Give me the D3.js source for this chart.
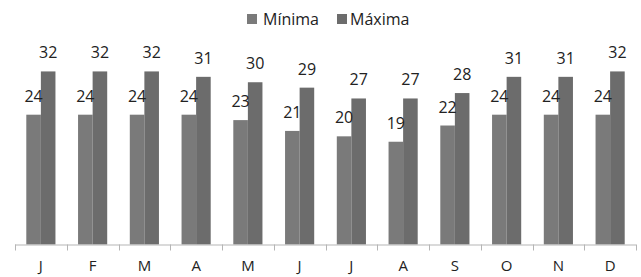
<!DOCTYPE html>
<html lang="es">
<head>
<meta charset="UTF-8">
<script src="https://d3js.org/d3.v7.min.js"></script>
<style>
  body { margin: 0; background: #fff; }
  svg { display: block; font-family: "Open Sans", sans-serif; }
</style>
</head>
<body>
<svg width="641" height="277"></svg>
<script>
const months = ["J", "F", "M", "A", "M", "J", "J", "A", "S", "O", "N", "D"];
const minima = [24, 24, 24, 24, 23, 21, 20, 19, 22, 24, 24, 24];
const maxima = [32, 32, 32, 31, 30, 29, 27, 27, 28, 31, 31, 32];
const seriesNames = ["Mínima", "Máxima"];
const colors = ["#7a7a7a", "#6c6c6c"];

const svg = d3.select("svg");
const left = 15, right = 636, base = 244.5;

const x = d3.scaleBand().domain(d3.range(months.length)).range([left, right]).paddingInner(0).paddingOuter(0);
const x1 = d3.scaleBand().domain([0, 1]).range([11.3, x.bandwidth() - 11.3]);
const y = d3.scaleLinear().domain([0, 35]).range([base, 55.2]);

const data = months.map((m, i) => ({ i, vals: [minima[i], maxima[i]] }));

const groups = svg.selectAll("g.grp").data(data).enter().append("g")
  .attr("class", "grp")
  .attr("transform", d => `translate(${x(d.i)},0)`);

groups.selectAll("rect").data(d => d.vals).enter().append("rect")
  .attr("x", (v, k) => x1(k))
  .attr("width", x1.bandwidth())
  .attr("y", v => y(v))
  .attr("height", v => base - y(v))
  .attr("fill", (v, k) => colors[k]);

groups.selectAll("text.val").data(d => d.vals).enter().append("text")
  .attr("class", "val")
  .attr("x", (v, k) => x1(k) + x1.bandwidth() / 2)
  .attr("y", v => y(v) - 13)
  .attr("text-anchor", "middle")
  .attr("font-size", 16)
  .attr("fill", "#222")
  .text(v => v);

// axis line + ticks between categories
svg.append("line")
  .attr("x1", left).attr("x2", right)
  .attr("y1", base + 0.5).attr("y2", base + 0.5)
  .attr("stroke", "#b5b5b5");
svg.selectAll("line.tick").data(d3.range(months.length + 1)).enter().append("line")
  .attr("class", "tick")
  .attr("x1", i => Math.round(left + i * x.bandwidth()) + 0.5)
  .attr("x2", i => Math.round(left + i * x.bandwidth()) + 0.5)
  .attr("y1", base).attr("y2", base + 6)
  .attr("stroke", "#b5b5b5");

svg.selectAll("text.cat").data(months).enter().append("text")
  .attr("class", "cat")
  .attr("x", (m, i) => x(i) + x.bandwidth() / 2)
  .attr("y", 271)
  .attr("text-anchor", "middle")
  .attr("font-size", 15)
  .attr("fill", "#222")
  .text(m => m);

// legend
const legSq = [247, 337];
const legTx = [263, 350];
const leg = svg.selectAll("g.leg").data(seriesNames).enter().append("g")
  .attr("class", "leg");
leg.append("rect").attr("x", (d, i) => legSq[i]).attr("y", 14)
  .attr("width", 10).attr("height", 10).attr("fill", (d, i) => colors[i]);
leg.append("text").attr("x", (d, i) => legTx[i]).attr("y", 24.5)
  .attr("font-size", 16).attr("fill", "#222").text(d => d);
</script>
</body>
</html>
